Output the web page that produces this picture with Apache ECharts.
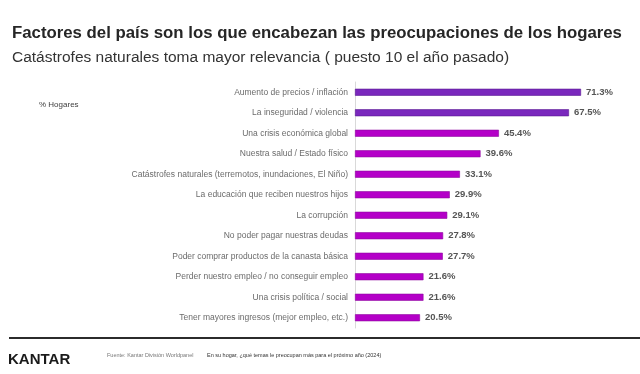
<!DOCTYPE html>
<html>
<head>
<meta charset="utf-8">
<script src="https://cdn.jsdelivr.net/npm/echarts@6/dist/echarts.min.js"></script>
<style>
  html, body { margin: 0; padding: 0; background: #fff; }
  #chart { width: 640px; height: 374px; }
</style>
</head>
<body>
<div id="chart"></div>
<script>
// categorias (de arriba a abajo)
var categories = [
  'Aumento de precios / inflación',
  'La inseguridad / violencia',
  'Una crisis económica global',
  'Nuestra salud / Estado físico',
  'Catástrofes naturales (terremotos, inundaciones, El Niño)',
  'La educación que reciben nuestros hijos',
  'La corrupción',
  'No poder pagar nuestras deudas',
  'Poder comprar productos de la canasta básica',
  'Perder nuestro empleo / no conseguir empleo',
  'Una crisis política / social',
  'Tener mayores ingresos (mejor empleo, etc.)'
];
var hogares = [71.3, 67.5, 45.4, 39.6, 33.1, 29.9, 29.1, 27.8, 27.7, 21.6, 21.6, 20.5];
// los dos primeros van en morado
var destacados = [0, 1];

var font = '"Liberation Sans", Arial, sans-serif';
var chart = echarts.init(document.getElementById('chart'));

chart.setOption({
  backgroundColor: '#fff',
  animation: false,
  textStyle: { fontFamily: font },
  title: [
    {
      text: 'Factores del país son los que encabezan las preocupaciones de los hogares',
      left: 7,
      top: 20,
      textStyle: { fontSize: 16.8, fontWeight: 'bold', color: '#262626', fontFamily: font }
    },
    {
      text: 'Catástrofes naturales toma mayor relevancia ( puesto 10 el año pasado)',
      left: 7,
      top: 45,
      textStyle: { fontSize: 15.5, fontWeight: 'normal', color: '#333', fontFamily: font }
    }
  ],
  grid: { left: 355, top: 82, width: 253.6, height: 246 },
  xAxis: {
    type: 'value',
    min: 0,
    max: 80,
    show: false
  },
  yAxis: {
    type: 'category',
    inverse: true,
    data: categories,
    axisLine: { show: true, lineStyle: { color: '#d9d9d9', width: 1 } },
    axisTick: { show: false },
    axisLabel: { fontSize: 8.5, color: '#6b6b6b', margin: 7, fontFamily: font }
  },
  series: [
    {
      type: 'bar',
      barWidth: 7,
      data: hogares.map(function (v, i) {
        var top = destacados.indexOf(i) >= 0;
        return {
          value: v,
          itemStyle: {
            color: top ? '#7a28bd' : '#b400c8',
            borderColor: top ? '#5a1a94' : '#8e0aa0',
            borderWidth: 0.6
          }
        };
      }),
      label: {
        show: true,
        position: 'right',
        distance: 5,
        fontSize: 9.5,
        fontWeight: 'bold',
        color: '#555',
        fontFamily: font,
        formatter: function (p) { return p.value.toFixed(1) + '%'; }
      }
    }
  ],
  graphic: [
    {
      type: 'text', left: 39, top: 101,
      style: { text: '% Hogares', fontSize: 8, fill: '#404040', fontFamily: font }
    },
    {
      type: 'line',
      shape: { x1: 9, y1: 338, x2: 640, y2: 338 },
      style: { stroke: '#2b2b2b', lineWidth: 2 }
    },
    {
      type: 'text', left: 8, top: 352,
      style: { text: 'KANTAR', fontSize: 15, fontWeight: 'bold', fill: '#1a1a1a', fontFamily: font }
    },
    {
      type: 'text', left: 107, top: 352,
      style: { text: 'Fuente: Kantar División Worldpanel', fontSize: 5.5, fill: '#777', fontFamily: font }
    },
    {
      type: 'text', left: 207, top: 352,
      style: { text: 'En su hogar, ¿qué temas le preocupan más para el próximo año (2024)', fontSize: 5.5, fill: '#333', fontFamily: font }
    }
  ]
});
</script>
</body>
</html>
